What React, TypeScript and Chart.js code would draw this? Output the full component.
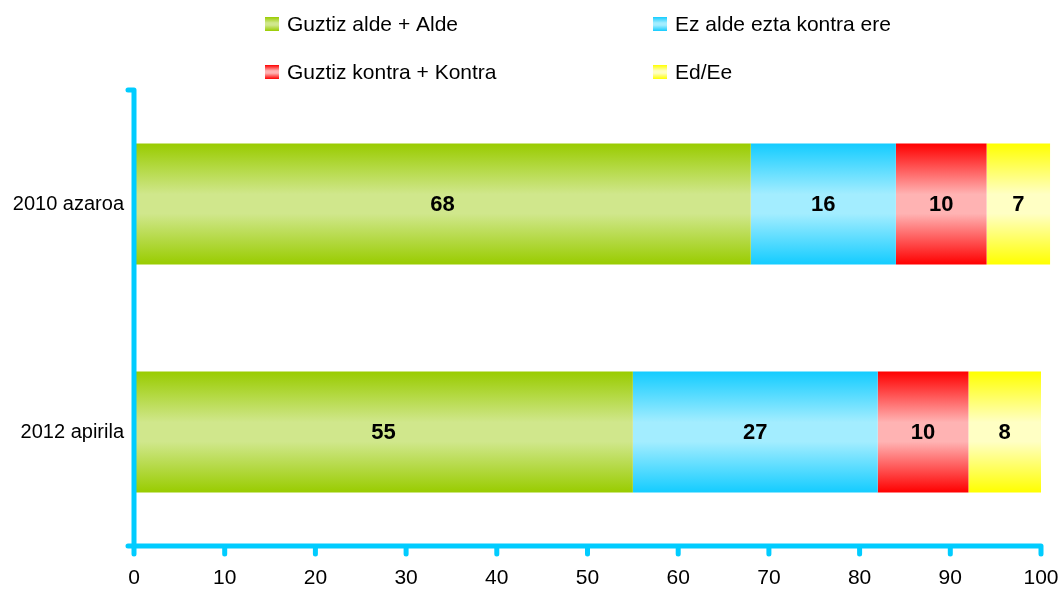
import React, { useEffect, useRef } from "react";
import { Chart, registerables } from "chart.js";

Chart.register(...registerables);

const categories = ["2010 azaroa", "2012 apirila"];
const seriesNames = [
  "Guztiz alde + Alde",
  "Ez alde ezta kontra ere",
  "Guztiz kontra + Kontra",
  "Ed/Ee",
];
const aldeValues = [68, 55];
const ezAldeValues = [16, 27];
const kontraValues = [10, 10];
const edEeValues = [7, 8];
const xMin = 0;
const xMax = 100;
const xStep = 10;

const edgeColors = ["#99CC00", "#14CCFF", "#FF0000", "#FFFF00"];
const centerColors = ["#D0E78C", "#A3EDFF", "#FFB3B3", "#FFFFC4"];
const AXIS_COLOR = "#00CCFF";
const FONT = "'Liberation Sans', Arial, sans-serif";
const BAR_PCT = 0.53;

function vGrad(ctx: CanvasRenderingContext2D, top: number, bottom: number, i: number) {
  const g = ctx.createLinearGradient(0, top, 0, bottom);
  g.addColorStop(0, edgeColors[i]);
  g.addColorStop(0.42, centerColors[i]);
  g.addColorStop(0.58, centerColors[i]);
  g.addColorStop(1, edgeColors[i]);
  return g;
}

function barColor(i: number) {
  return (c: any) => {
    const chart = c.chart;
    const y = chart.scales && chart.scales.y;
    if (c.dataIndex === undefined || !y || !chart.chartArea) return edgeColors[i];
    const center = y.getPixelForValue(c.dataIndex);
    const catH = (y.bottom - y.top) / categories.length;
    const h = catH * BAR_PCT;
    return vGrad(chart.ctx, center - h / 2, center + h / 2, i);
  };
}

const axesPlugin = {
  id: "customAxes",
  afterDatasetsDraw(chart: any) {
    const { ctx, chartArea, scales } = chart;
    const { left, right, top, bottom } = chartArea;
    const x = scales.x;
    ctx.save();
    ctx.strokeStyle = AXIS_COLOR;
    ctx.lineWidth = 5;
    ctx.lineCap = "round";
    ctx.lineJoin = "round";
    ctx.beginPath();
    ctx.moveTo(left - 6, top);
    ctx.lineTo(left, top);
    ctx.lineTo(left, bottom);
    ctx.moveTo(left - 6, bottom);
    ctx.lineTo(right, bottom);
    x.ticks.forEach((_t: any, i: number) => {
      const px = x.getPixelForTick(i);
      ctx.moveTo(px, bottom);
      ctx.lineTo(px, bottom + 8);
    });
    ctx.stroke();
    ctx.restore();
  },
};

const labelsPlugin = {
  id: "barLabels",
  afterDatasetsDraw(chart: any) {
    const ctx = chart.ctx;
    ctx.save();
    ctx.font = `bold 22px ${FONT}`;
    ctx.fillStyle = "#000";
    ctx.textAlign = "center";
    ctx.textBaseline = "middle";
    chart.data.datasets.forEach((ds: any, di: number) => {
      const meta = chart.getDatasetMeta(di);
      meta.data.forEach((el: any, i: number) => {
        const cx = (el.x + el.base) / 2;
        ctx.fillText(String(ds.data[i]), cx, el.y + 1);
      });
    });
    ctx.restore();
  },
};

const legendPlugin = {
  id: "gridLegend",
  afterDraw(chart: any) {
    const ctx = chart.ctx;
    const startX = 265;
    const colW = 388;
    const rowY = [24, 72];
    const box = 14;
    ctx.save();
    ctx.font = `21px ${FONT}`;
    ctx.fillStyle = "#000";
    ctx.textAlign = "left";
    ctx.textBaseline = "middle";
    chart.data.datasets.forEach((ds: any, i: number) => {
      const col = i % 2;
      const row = Math.floor(i / 2);
      const bx = startX + col * colW;
      const cy = rowY[row];
      ctx.fillStyle = vGrad(ctx, cy - box / 2, cy + box / 2, i);
      ctx.fillRect(bx, cy - box / 2, box, box);
      ctx.fillStyle = "#000";
      ctx.fillText(ds.label, bx + box + 8, cy + 1);
    });
    ctx.restore();
  },
};

export default function App() {
  const ref = useRef<HTMLCanvasElement>(null);
  useEffect(() => {
    if (!ref.current) return;
    const seriesValues = [aldeValues, ezAldeValues, kontraValues, edEeValues];
    const chart = new Chart(ref.current, {
      type: "bar",
      data: {
        labels: categories,
        datasets: seriesNames.map((name, i) => ({
          label: name,
          data: seriesValues[i],
          backgroundColor: barColor(i),
          borderWidth: 0,
          barPercentage: BAR_PCT,
          categoryPercentage: 1,
          clip: false as any,
        })),
      },
      options: {
        indexAxis: "y",
        responsive: false,
        animation: false,
        layout: { padding: { top: 90, right: 22, bottom: 0, left: 0 } },
        plugins: {
          legend: { display: false },
          tooltip: { enabled: false },
        },
        scales: {
          x: {
            type: "linear",
            stacked: true,
            min: xMin,
            max: xMax,
            grid: { display: false, drawTicks: false },
            border: { display: false },
            ticks: {
              stepSize: xStep,
              padding: 20,
              color: "#000",
              font: { family: FONT, size: 21 },
            },
            afterFit: (scale: any) => {
              scale.height = 46;
              scale.paddingLeft = 0;
              scale.paddingRight = 0;
            },
          },
          y: {
            type: "category",
            stacked: true,
            grid: { display: false, drawTicks: false },
            border: { display: false },
            ticks: {
              padding: 10,
              color: "#000",
              font: { family: FONT, size: 20 },
            },
            afterFit: (scale: any) => {
              scale.width = 134;
              scale.paddingTop = 0;
              scale.paddingBottom = 0;
            },
          },
        },
      },
      plugins: [axesPlugin, labelsPlugin, legendPlugin],
    });
    return () => chart.destroy();
  }, []);
  return (
    <div style={{ position: "absolute", left: 0, top: 0, width: 1063, height: 592, background: "#fff" }}>
      <canvas ref={ref} width={1063} height={592} />
    </div>
  );
}
